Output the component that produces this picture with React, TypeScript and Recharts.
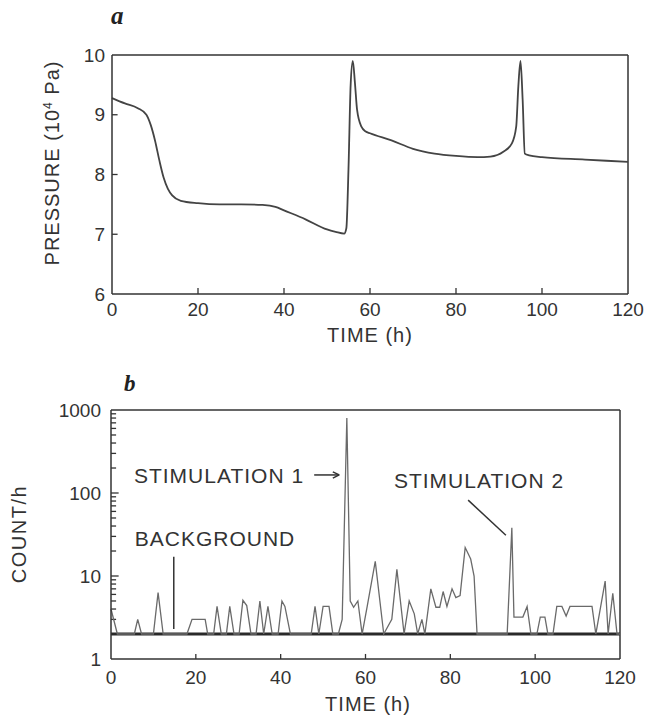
import { LineChart, Line, XAxis, YAxis, ReferenceLine } from "recharts";

// panel a: pressure vs time
const pressureTime = [
  0, 3, 6, 8, 9, 10, 11, 12, 13, 14, 16, 20, 25, 30, 35, 38, 40, 45, 50, 52, 54,
  54.5, 55, 55.5, 56, 56.5, 57, 58, 59, 60, 65, 70, 75, 80, 85, 88, 91, 93, 94,
  94.5, 95, 95.5, 96, 97, 100, 110, 120,
];
const pressureValue = [
  9.28, 9.19, 9.11, 9.0, 8.83, 8.57, 8.24, 7.95, 7.76, 7.65, 7.56, 7.52, 7.5,
  7.5, 7.49, 7.46, 7.4, 7.25, 7.08, 7.04, 7.01, 7.1, 8.1, 9.5, 9.9, 9.53, 9.08,
  8.8, 8.72, 8.69, 8.57, 8.43, 8.35, 8.31, 8.29, 8.3, 8.38, 8.52, 8.8, 9.48,
  9.9, 9.25, 8.35, 8.32, 8.29, 8.25, 8.21,
];

// panel b: counts per hour
const countTime = [
  0, 1.5, 5.5, 6.3, 7.2, 10, 11.1, 12.3, 17.9, 19.1, 22.2, 22.8, 24.2, 25, 26,
  27.2, 28, 29, 30.2, 31.1, 32, 33, 34.2, 35.1, 36, 37, 38, 39.4, 40.3, 41,
  42.3, 47.2, 48.1, 49, 50, 51.4, 52.3, 53.6, 54.5, 55.6, 56.4, 57.2, 58.2,
  59.2, 60.4, 62.3, 64.3, 66.2, 67.4, 69.1, 70.3, 71.5, 72.3, 73.3, 74, 75.4,
  76.6, 77.5, 78.3, 79.2, 80.4, 81.3, 82.3, 83.5, 84.8, 85.6, 86.3, 93.4, 94.5,
  95, 97.1, 98.1, 99, 100.4, 101.2, 102.3, 103, 104.2, 105.1, 106.3, 107.3,
  108.2, 113.4, 114.3, 116.5, 117.2, 118.3, 119.3, 120,
];
const countValue = [
  4, 2, 2, 3, 2, 2, 6.3, 2, 2, 3, 3, 2, 2, 4.3, 2, 2, 4.3, 2, 2, 5.1, 4.4, 2, 2,
  5, 2, 4.3, 2, 2, 5, 4.3, 2, 2, 4.3, 2, 4.3, 4.3, 2, 2, 3, 800, 5, 4.2, 5, 2,
  4.3, 15, 2, 3, 12, 2, 5, 3.5, 2, 3, 2, 7, 4.2, 4.2, 6.5, 4.3, 7, 5.5, 5.8,
  22, 16, 10, 2, 2, 38, 3.2, 3.2, 4.3, 2, 2, 3.2, 3.2, 2, 2, 4.3, 4.3, 3.3, 4.3,
  4.3, 2, 8.7, 2, 6.2, 2, 2,
];

const timeTicks = [0, 20, 40, 60, 80, 100, 120];
const pressureTicks = [6, 7, 8, 9, 10];
const countMajor = [1, 10, 100, 1000];
const countMinor = [
  2, 3, 4, 5, 6, 7, 8, 9, 20, 30, 40, 50, 60, 70, 80, 90, 200, 300, 400, 500,
  600, 700, 800, 900,
];
const backgroundLevel = 2;

// annotation pointers, in data units
const stim1Arrow = [{ x: 47.9, y: 165 }, { x: 53.8, y: 165 }];
const stim1HeadUp = [{ x: 52.3, y: 180 }, { x: 53.8, y: 165 }];
const stim1HeadDown = [{ x: 52.3, y: 151 }, { x: 53.8, y: 165 }];
const stim2Pointer = [{ x: 84.2, y: 82 }, { x: 93.1, y: 31 }];
const backgroundPointer = [{ x: 14.8, y: 17 }, { x: 14.8, y: 2.3 }];

const pressureData = pressureTime.map((t, i) => ({ t, p: pressureValue[i] }));
const countData = countTime.map((t, i) => ({ t, c: countValue[i] }));

const FONT = "'Liberation Sans', Arial, sans-serif";
const INK = "#333";
const tickStyle = { fill: INK, fontSize: 19, fontFamily: FONT };

const textAt = (x: number, y: number, extra: React.CSSProperties = {}) =>
  ({
    position: "absolute",
    left: x,
    top: y,
    transform: "translate(-50%, -50%)",
    whiteSpace: "nowrap",
    lineHeight: 1,
    fontSize: 20,
    letterSpacing: 1,
    color: INK,
    ...extra,
  }) as React.CSSProperties;

// inward tick marks drawn as short segments
const tickMark = (seg: { x: number; y: number }[], key: string) => (
  <ReferenceLine key={key} segment={seg} stroke={INK} strokeWidth={1.3} />
);

export default function App() {
  return (
    <div
      style={{
        position: "absolute",
        left: 0,
        top: 0,
        width: 647,
        height: 721,
        background: "#fff",
        fontFamily: FONT,
        overflow: "hidden",
      }}
    >
      <div style={{ position: "absolute", left: 0, top: 0 }}>
        <LineChart
          width={647}
          height={360}
          data={pressureData}
          margin={{ top: 55, right: 19, bottom: 36, left: 62 }}
        >
          <XAxis
            dataKey="t"
            type="number"
            domain={[0, 120]}
            ticks={timeTicks}
            tickLine={false}
            tickSize={6}
            tickMargin={3}
            tick={tickStyle}
            stroke={INK}
            strokeWidth={1.5}
            height={30}
          />
          <YAxis
            type="number"
            domain={[6, 10]}
            ticks={pressureTicks}
            tickLine={false}
            tickSize={6}
            tickMargin={1}
            tick={tickStyle}
            stroke={INK}
            strokeWidth={1.5}
            width={50}
          />
          <ReferenceLine y={10} stroke={INK} strokeWidth={1.5} />
          <ReferenceLine x={120} stroke={INK} strokeWidth={1.5} />
          {timeTicks.slice(1, -1).map((t) =>
            tickMark([{ x: t, y: 6 }, { x: t, y: 6.1 }], `xa${t}`)
          )}
          {pressureTicks.slice(1, -1).map((v) =>
            tickMark([{ x: 0, y: v }, { x: 1.3, y: v }], `ya${v}`)
          )}
          <Line
            dataKey="p"
            type="monotone"
            stroke="#444"
            strokeWidth={1.8}
            dot={false}
            isAnimationActive={false}
          />
        </LineChart>
      </div>

      <div style={{ position: "absolute", left: 0, top: 360 }}>
        <LineChart
          width={647}
          height={361}
          data={countData}
          margin={{ top: 50, right: 27, bottom: 32, left: 61 }}
        >
          <XAxis
            dataKey="t"
            type="number"
            domain={[0, 120]}
            ticks={timeTicks}
            tickLine={false}
            tickSize={6}
            tickMargin={6}
            tick={tickStyle}
            stroke={INK}
            strokeWidth={1.5}
            height={30}
          />
          <YAxis
            type="number"
            scale="log"
            domain={[1, 1000]}
            allowDataOverflow
            ticks={countMajor}
            tickLine={false}
            tickSize={6}
            tickMargin={4}
            tick={tickStyle}
            stroke={INK}
            strokeWidth={1.5}
            width={50}
          />
          <ReferenceLine y={1000} stroke={INK} strokeWidth={1.5} />
          <ReferenceLine x={120} stroke={INK} strokeWidth={1.5} />
          {timeTicks.slice(1, -1).map((t) =>
            tickMark([{ x: t, y: 1 }, { x: t, y: 1.15 }], `xb${t}`)
          )}
          {countMinor.map((v) =>
            tickMark([{ x: 0, y: v }, { x: 1.2, y: v }], `yb${v}`)
          )}
          {countMajor.slice(1, -1).map((v) =>
            tickMark([{ x: 0, y: v }, { x: 1.8, y: v }], `ybm${v}`)
          )}
          <ReferenceLine y={backgroundLevel} stroke="#2a2a2a" strokeWidth={3} />
          <ReferenceLine segment={stim1Arrow} stroke={INK} strokeWidth={1.5} />
          <ReferenceLine segment={stim1HeadUp} stroke={INK} strokeWidth={1.5} />
          <ReferenceLine segment={stim1HeadDown} stroke={INK} strokeWidth={1.5} />
          <ReferenceLine segment={stim2Pointer} stroke={INK} strokeWidth={1.5} />
          <ReferenceLine segment={backgroundPointer} stroke={INK} strokeWidth={1.5} />
          <Line
            dataKey="c"
            type="linear"
            stroke="#6a6a6a"
            strokeWidth={1.3}
            dot={false}
            isAnimationActive={false}
          />
        </LineChart>
      </div>

      <div
        style={{
          position: "absolute",
          left: 111,
          top: 3,
          fontFamily: "'Liberation Serif', serif",
          fontWeight: "bold",
          fontStyle: "italic",
          fontSize: 25,
          lineHeight: 1,
          color: "#222",
        }}
      >
        a
      </div>
      <div
        style={{
          position: "absolute",
          left: 124,
          top: 372,
          fontFamily: "'Liberation Serif', serif",
          fontWeight: "bold",
          fontStyle: "italic",
          fontSize: 23,
          lineHeight: 1,
          color: "#222",
        }}
      >
        b
      </div>

      <div style={textAt(52, 163, { transform: "translate(-50%, -50%) rotate(-90deg)" })}>
        PRESSURE (10<sup style={{ fontSize: 12, verticalAlign: "top", lineHeight: 1 }}>4</sup> Pa)
      </div>
      <div style={textAt(370, 335)}>TIME (h)</div>

      <div style={textAt(19, 534, { transform: "translate(-50%, -50%) rotate(-90deg)", letterSpacing: 1.5 })}>
        COUNT/h
      </div>
      <div style={textAt(368, 704)}>TIME (h)</div>

      <div style={textAt(219, 475, { fontSize: 21 })}>STIMULATION 1</div>
      <div style={textAt(479, 480, { fontSize: 21 })}>STIMULATION 2</div>
      <div style={textAt(215, 538, { fontSize: 21 })}>BACKGROUND</div>
    </div>
  );
}
